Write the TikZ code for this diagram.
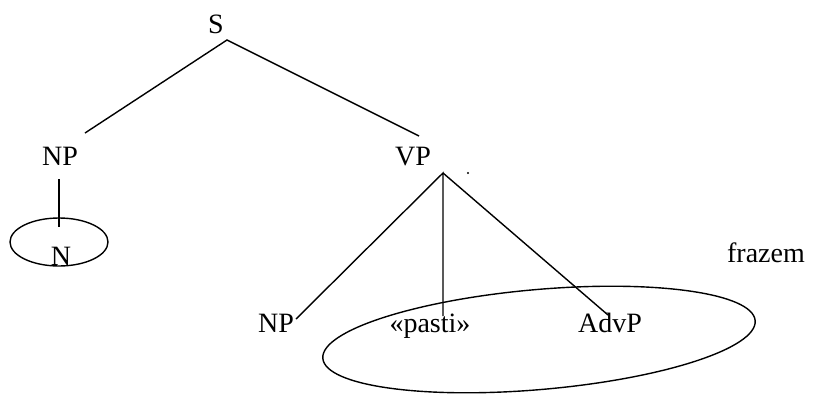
\documentclass[tikz,border=0pt]{standalone}
\usepackage{fontspec}
\setmainfont{Liberation Serif}
\tikzset{
  lab/.style={font=\fontsize{28}{32}\selectfont, inner sep=0pt, anchor=base},
  edge/.style={draw=black, line width=1.4pt},
}
\begin{document}
\begin{tikzpicture}[x=1pt,y=-1pt]
\useasboundingbox (0,0) rectangle (817,394);
% labels (anchored at baseline)
\node[lab] (S) at (216,33) {S};
\node[lab] (NP1) at (60,165) {NP};
\node[lab] (N) at (61,265) {N};
\node[lab] (VP) at (413,165) {VP};
\node[lab] (NP2) at (276,332) {NP};
\node[lab] (pasti) at (430,332) {«pasti»};
\node[lab] (AdvP) at (610,332) {AdvP};
\node[lab] (frazem) at (766,262) {frazem};
% connector points
\coordinate (Sa) at (227,40);
\coordinate (NP1t) at (85,133);
\coordinate (VPt) at (419,136);
\coordinate (NP1b) at (59,179);
\coordinate (Nt) at (59,227);
\coordinate (VPa) at (443,173);
\coordinate (NP2t) at (296,319);
\coordinate (pastit) at (443,316);
\coordinate (AdvPt) at (608,315);
\draw[edge] (NP1t) -- (Sa) -- (VPt);
\draw[edge] (NP1b) -- (Nt);
\draw[edge] (NP2t) -- (VPa) -- (pastit);
\draw[edge] (VPa) -- (AdvPt);
% ellipses
\draw[edge] (59,242) ellipse [x radius=49, y radius=24];
\draw[edge, rotate around={5:(539,339.5)}] (539,339.5) ellipse [x radius=217, y radius=50];
% stray dot
\fill (468,173) circle (1.1pt);
\end{tikzpicture}
\end{document}
